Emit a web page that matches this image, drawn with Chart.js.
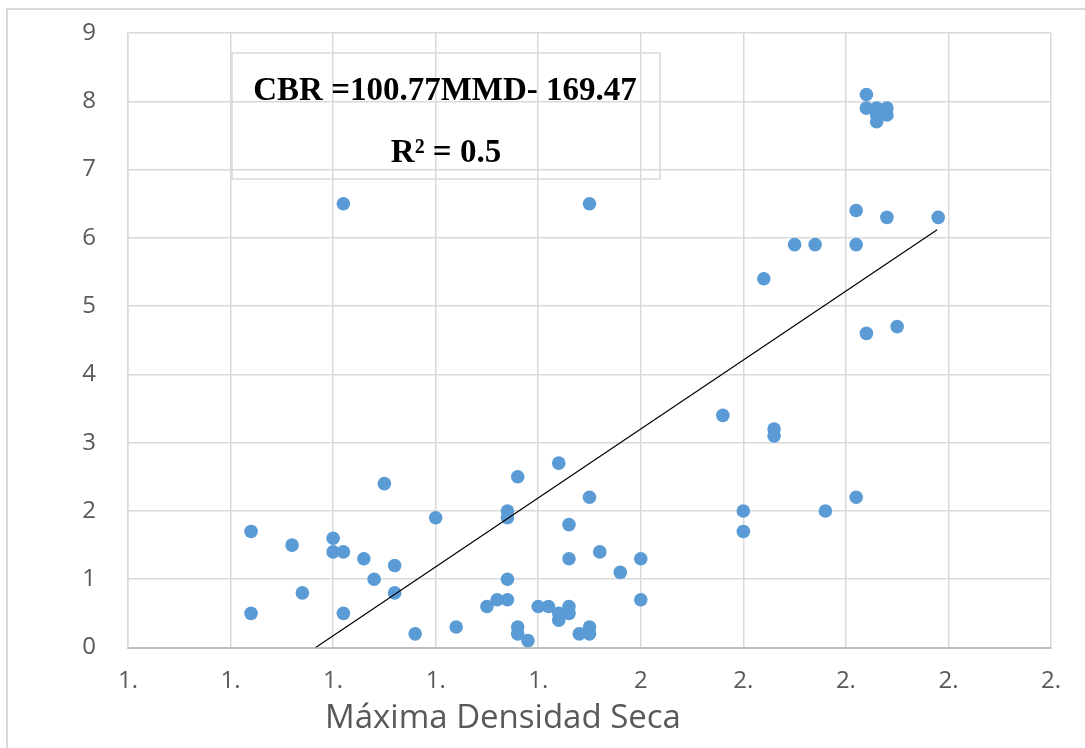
<!DOCTYPE html>
<html>
<head>
<meta charset="utf-8">
<script src="https://cdn.jsdelivr.net/npm/chart.js@4.4.0/dist/chart.umd.min.js"></script>
<style>
  html, body { margin: 0; padding: 0; background: #fff; }
  #chart { display: block; }
</style>
</head>
<body>
<canvas id="chart" width="1085" height="748"></canvas>
<script>
// Máxima Densidad Seca (x) vs CBR (y)
const mmd = [
  1.62, 1.62, 1.66, 1.67, 1.70, 1.70, 1.71, 1.71, 1.71, 1.73,
  1.74, 1.75, 1.76, 1.76, 1.78, 1.80, 1.82, 1.85, 1.86, 1.87,
  1.87, 1.87, 1.87, 1.88, 1.88, 1.88, 1.89, 1.90, 1.91, 1.92,
  1.92, 1.92, 1.93, 1.93, 1.93, 1.93, 1.94, 1.95, 1.95, 1.95,
  1.95, 1.96, 1.98, 2.00, 2.00, 2.08, 2.10, 2.10, 2.12, 2.13,
  2.13, 2.15, 2.17, 2.18, 2.21, 2.21, 2.21, 2.22, 2.22, 2.22,
  2.23, 2.24, 2.23, 2.23, 2.24, 2.24, 2.25, 2.29
];
const cbr = [
  1.7, 0.5, 1.5, 0.8, 1.6, 1.4, 1.4, 0.5, 6.5, 1.3,
  1.0, 2.4, 1.2, 0.8, 0.2, 1.9, 0.3, 0.6, 0.7, 0.7,
  1.0, 2.0, 1.9, 2.5, 0.3, 0.2, 0.1, 0.6, 0.6, 2.7,
  0.5, 0.4, 0.6, 0.5, 1.8, 1.3, 0.2, 0.3, 0.2, 2.2,
  6.5, 1.4, 1.1, 1.3, 0.7, 3.4, 2.0, 1.7, 5.4, 3.2,
  3.1, 5.9, 5.9, 2.0, 6.4, 5.9, 2.2, 4.6, 8.1, 7.9,
  7.9, 7.9, 7.7, 7.8, 7.8, 6.3, 4.7, 6.3
];

// trendline ends as drawn
const trendX = [1.683, 2.289];
const trendY = [0, 6.12];

const xTickLabels = ['1.', '1.', '1.', '1.', '1.', '2', '2.', '2.', '2.', '2.'];
const equationText = 'CBR =100.77MMD- 169.47';
const r2Text = 'R² = 0.5';
const xTitle = 'Máxima Densidad Seca';

const GRID = '#d9d9d9';
const TEXT = '#595959';

const decor = {
  id: 'decor',
  beforeDraw(chart) {
    const ctx = chart.ctx;
    ctx.save();
    ctx.fillStyle = '#fff';
    ctx.fillRect(0, 0, chart.width, chart.height);
    // chart area border (only top/left visible)
    ctx.strokeStyle = GRID;
    ctx.lineWidth = 2;
    ctx.beginPath();
    ctx.moveTo(7, chart.height);
    ctx.lineTo(7, 9);
    ctx.lineTo(chart.width, 9);
    ctx.stroke();
    ctx.restore();
  },
  afterDraw(chart) {
    const ctx = chart.ctx;
    ctx.save();
    // equation box
    ctx.strokeStyle = GRID;
    ctx.lineWidth = 1.5;
    ctx.strokeRect(232, 53, 428, 126);
    ctx.fillStyle = '#000';
    ctx.font = 'bold 33px "Liberation Serif", "Times New Roman", serif';
    ctx.textAlign = 'center';
    ctx.textBaseline = 'middle';
    ctx.fillText(equationText, 445, 91);
    ctx.fillText(r2Text, 446, 153);
    // axis title
    ctx.fillStyle = TEXT;
    ctx.font = '33px "Open Sans", sans-serif';
    ctx.fillText(xTitle, 503, 719);
    ctx.restore();
  }
};

new Chart(document.getElementById('chart'), {
  type: 'scatter',
  data: {
    datasets: [
      {
        label: 'CBR',
        data: mmd.map((x, i) => ({ x, y: cbr[i] })),
        backgroundColor: '#5b9bd5',
        borderColor: '#5b9bd5',
        borderWidth: 0,
        pointRadius: 6.8,
        pointHoverRadius: 6.8,
        order: 2
      },
      {
        type: 'line',
        label: 'Lineal',
        data: trendX.map((x, i) => ({ x, y: trendY[i] })),
        borderColor: '#000',
        borderWidth: 1.2,
        pointRadius: 0,
        fill: false,
        order: 1
      }
    ]
  },
  options: {
    responsive: false,
    animation: false,
    devicePixelRatio: 1,
    layout: { padding: { top: 33, right: 34, left: 0, bottom: 0 } },
    plugins: {
      legend: { display: false },
      tooltip: { enabled: false }
    },
    scales: {
      x: {
        type: 'linear',
        min: 1.5,
        max: 2.4,
        afterFit(s) { s.height = 100.5; },
        ticks: {
          stepSize: 0.1,
          color: TEXT,
          font: { family: '"Open Sans", sans-serif', size: 24 },
          padding: 19,
          maxRotation: 0,
          autoSkip: false,
          callback: (v, i) => xTickLabels[i]
        },
        grid: { color: GRID, lineWidth: 1.5, drawTicks: false },
        border: { color: '#bfbfbf', width: 2 }
      },
      y: {
        min: 0,
        max: 9,
        afterFit(s) { s.width = 128; },
        ticks: {
          stepSize: 1,
          color: TEXT,
          font: { family: '"Open Sans", sans-serif', size: 24 },
          padding: 2
        },
        grid: { color: GRID, lineWidth: 1.5, drawTicks: true, tickLength: 30, tickColor: 'rgba(0,0,0,0)' },
        border: { color: GRID, width: 1.5 }
      }
    }
  },
  plugins: [decor]
});
</script>
</body>
</html>
